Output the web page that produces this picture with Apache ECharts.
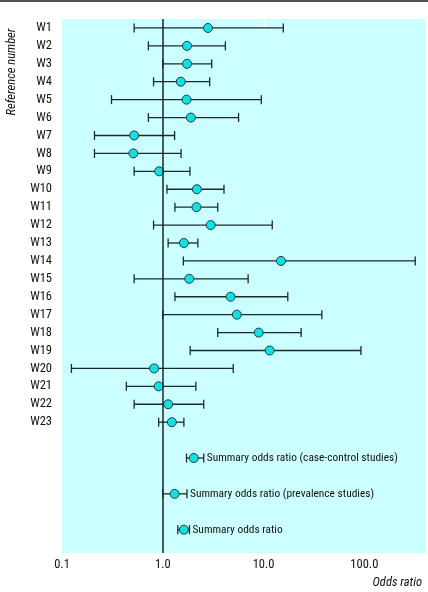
<!DOCTYPE html>
<html><head><meta charset="utf-8">
<script src="https://cdn.jsdelivr.net/npm/echarts@6/dist/echarts.min.js"></script>
<style>html,body{margin:0;padding:0;background:#fff}#c{width:428px;height:592px}</style></head>
<body><div id="c"></div><script>
const studyLabels = ['W1','W2','W3','W4','W5','W6','W7','W8','W9','W10','W11','W12','W13','W14','W15','W16','W17','W18','W19','W20','W21','W22','W23'];
const summaryLabels = ['Summary odds ratio (case-control studies)','Summary odds ratio (prevalence studies)','Summary odds ratio'];
const rowIndex = [0,1,2,3,4,5,6,7,8,9,10,11,12,13,14,15,16,17,18,19,20,21,22,24,26,28];
const oddsRatio = [2.81,1.74,1.74,1.51,1.72,1.90,0.52,0.51,0.92,2.18,2.16,2.99,1.62,14.9,1.83,4.71,5.43,8.95,11.5,0.82,0.91,1.13,1.23,2.03,1.31,1.62];
const lowerCI =   [0.52,0.72,1.00,0.81,0.31,0.72,0.21,0.21,0.52,1.10,1.32,0.81,1.13,1.60,0.52,1.32,1.00,3.51,1.87,0.124,0.435,0.52,0.91,1.72,1.00,1.41];
const upperCI =   [15.7,4.18,3.06,2.92,9.5,5.65,1.31,1.52,1.86,4.05,3.51,12.2,2.23,320,7.03,17.4,37.9,23.6,92.6,5.0,2.13,2.55,1.62,2.55,1.74,1.84];
const xTicks = [0.1,1,10,100];

const FONT = '"Roboto Condensed","DejaVu Sans Condensed",sans-serif';
const INK = '#1e2a2a';
const nStudy = studyLabels.length;

const chart = echarts.init(document.getElementById('c'), null, {renderer:'canvas'});
const ciData = rowIndex.map((r,i)=>[lowerCI[i], upperCI[i], r]);
const ptData = rowIndex.map((r,i)=>[oddsRatio[i], r]);

chart.setOption({
  animation:false,
  backgroundColor:'#fff',
  grid:{left:62,right:3,top:19,bottom:39,show:true,backgroundColor:'#ccffff',borderWidth:0},
  xAxis:{type:'log',logBase:10,min:0.1,max:400,
    axisLine:{show:false},
    axisTick:{show:true,inside:true,length:7,lineStyle:{color:'#ffffff',width:1.5},customValues:[10]},
    splitLine:{show:false},
    axisLabel:{customValues:xTicks,formatter:v=>Number(v).toFixed(1),color:'#111',fontFamily:FONT,fontSize:12.5,margin:5}
  },
  yAxis:{type:'value',inverse:true,min:-0.5,max:29.3,
    axisLine:{show:false},axisTick:{show:false},splitLine:{show:false},
    axisLabel:{customValues:studyLabels.map((_,i)=>i),formatter:v=>studyLabels[v]||'',color:'#111',fontFamily:FONT,fontSize:12.5,margin:10}
  },
  graphic:[
    {type:'rect',left:0,top:0,shape:{width:428,height:2},style:{fill:'#555'}},
    {type:'text',x:12,y:72,rotation:Math.PI/2,style:{text:'Reference number',font:'italic 12.5px '+FONT,fill:'#111',align:'center',verticalAlign:'middle'}},
    {type:'text',right:6,top:576,style:{text:'Odds ratio',font:'italic 12.5px '+FONT,fill:'#111'}}
  ],
  series:[
    {type:'custom',data:ciData,encode:{x:[0,1],y:2},z:2,
      renderItem:(params,api)=>{
        const y=api.value(2);
        const p1=api.coord([api.value(0),y]);
        const p2=api.coord([api.value(1),y]);
        const h=4.5;
        const st={stroke:INK,lineWidth:1.3};
        const ch=[
          {type:'line',shape:{x1:p1[0],y1:p1[1],x2:p2[0],y2:p2[1]},style:st},
          {type:'line',shape:{x1:p1[0],y1:p1[1]-h,x2:p1[0],y2:p1[1]+h},style:st},
          {type:'line',shape:{x1:p2[0],y1:p2[1]-h,x2:p2[0],y2:p2[1]+h},style:st}
        ];
        const si=params.dataIndex-nStudy;
        if(si>=0){
          ch.push({type:'text',style:{text:summaryLabels[si],x:p2[0]+3,y:p2[1],verticalAlign:'middle',font:'11.4px '+FONT,fill:'#111'}});
        }
        return {type:'group',children:ch};
      }
    },
    {type:'scatter',data:ptData,symbol:'circle',symbolSize:9,z:4,
      itemStyle:{color:'#14e0e3',borderColor:'#1b4040',borderWidth:1,opacity:1},
      markLine:{silent:true,symbol:'none',label:{show:false},lineStyle:{color:'#1a2424',width:1.5,type:'solid'},data:[{xAxis:1}]}
    }
  ]
});
</script></body></html>
